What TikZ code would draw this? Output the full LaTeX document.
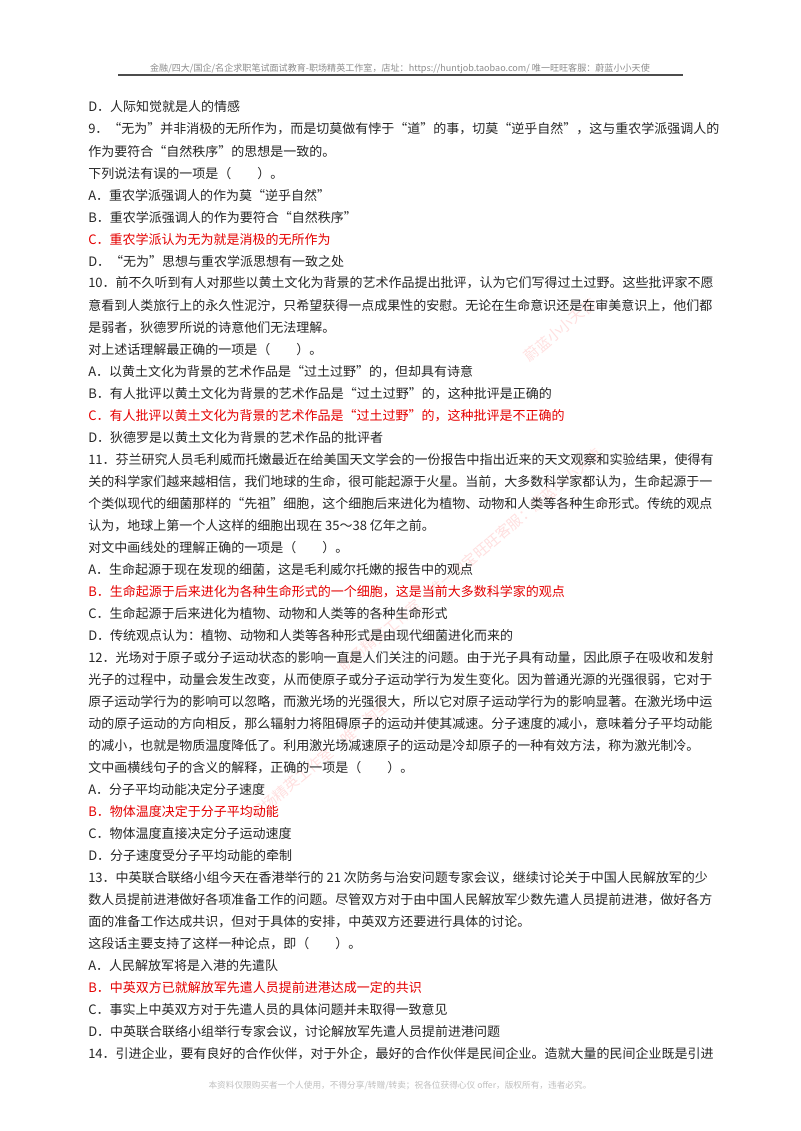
\documentclass[tikz,border=0pt]{standalone}
\usepackage{fontspec}
\setmainfont{Noto Sans CJK SC}
\begin{document}
\begin{tikzpicture}[x=0.75pt,y=-0.75pt,
  ln/.style={anchor=west,inner sep=0pt,font=\fontsize{9.75pt}{12pt}\selectfont,text=black!85},
  ans/.style={ln,text=red!90!black},
  wm/.style={rotate=40,text=red!12,font=\fontsize{11pt}{12pt}\selectfont,inner sep=0pt}]
\useasboundingbox[fill=white] (0,0) rectangle (800,1131);
\newcommand{\Ln}[3][ln]{\node[#1] (l#2) at (88,{107+22.02*#2}) {#3};}
% watermarks
\node[wm] (w1) at (470,560) {职场精英工作室\quad 唯一淘宝旺旺客服：蔚蓝小小天使};
\node[wm] (w2) at (560,330) {蔚蓝小小天使};
\node[wm] (w3) at (320,760) {职场精英工作室\quad 唯一淘宝};
% header
\node[anchor=base,inner sep=0pt,text=black!45,font=\fontsize{6.8pt}{8pt}\selectfont] (hd) at (400,71) {金融/四大/国企/名企求职笔试面试教育-职场精英工作室，店址：https://huntjob.taobao.com/\ 唯一旺旺客服：蔚蓝小小天使};
\coordinate (h1) at (118,75); \coordinate (h2) at (683,75);
\draw[black!70,line width=1.1pt] (h1) -- (h2);
% body
\Ln{0}{D．人际知觉就是人的情感}
\Ln{1}{9．“无为”并非消极的无所作为，而是切莫做有悖于“道”的事，切莫“逆乎自然”，这与重农学派强调人的}
\Ln{2}{作为要符合“自然秩序”的思想是一致的。}
\Ln{3}{下列说法有误的一项是（\quad\quad ）。}
\Ln{4}{A．重农学派强调人的作为莫“逆乎自然”}
\Ln{5}{B．重农学派强调人的作为要符合“自然秩序”}
\Ln[ans]{6}{C．重农学派认为无为就是消极的无所作为}
\Ln{7}{D．“无为”思想与重农学派思想有一致之处}
\Ln{8}{10．前不久听到有人对那些以黄土文化为背景的艺术作品提出批评，认为它们写得过土过野。这些批评家不愿}
\Ln{9}{意看到人类旅行上的永久性泥泞，只希望获得一点成果性的安慰。无论在生命意识还是在审美意识上，他们都}
\Ln{10}{是弱者，狄德罗所说的诗意他们无法理解。}
\Ln{11}{对上述话理解最正确的一项是（\quad\quad ）。}
\Ln{12}{A．以黄土文化为背景的艺术作品是“过土过野”的，但却具有诗意}
\Ln{13}{B．有人批评以黄土文化为背景的艺术作品是“过土过野”的，这种批评是正确的}
\Ln[ans]{14}{C．有人批评以黄土文化为背景的艺术作品是“过土过野”的，这种批评是不正确的}
\Ln{15}{D．狄德罗是以黄土文化为背景的艺术作品的批评者}
\Ln{16}{11．芬兰研究人员毛利威而托嫩最近在给美国天文学会的一份报告中指出近来的天文观察和实验结果，使得有}
\Ln{17}{关的科学家们越来越相信，我们地球的生命，很可能起源于火星。当前，大多数科学家都认为，生命起源于一}
\Ln{18}{个类似现代的细菌那样的“先祖”细胞，这个细胞后来进化为植物、动物和人类等各种生命形式。传统的观点}
\Ln{19}{认为，地球上第一个人这样的细胞出现在 35～38 亿年之前。}
\Ln{20}{对文中画线处的理解正确的一项是（\quad\quad ）。}
\Ln{21}{A．生命起源于现在发现的细菌，这是毛利威尔托嫩的报告中的观点}
\Ln[ans]{22}{B．生命起源于后来进化为各种生命形式的一个细胞，这是当前大多数科学家的观点}
\Ln{23}{C．生命起源于后来进化为植物、动物和人类等的各种生命形式}
\Ln{24}{D．传统观点认为：植物、动物和人类等各种形式是由现代细菌进化而来的}
\Ln{25}{12．光场对于原子或分子运动状态的影响一直是人们关注的问题。由于光子具有动量，因此原子在吸收和发射}
\Ln{26}{光子的过程中，动量会发生改变，从而使原子或分子运动学行为发生变化。因为普通光源的光强很弱，它对于}
\Ln{27}{原子运动学行为的影响可以忽略，而激光场的光强很大，所以它对原子运动学行为的影响显著。在激光场中运}
\Ln{28}{动的原子运动的方向相反，那么辐射力将阻碍原子的运动并使其减速。分子速度的减小，意味着分子平均动能}
\Ln{29}{的减小，也就是物质温度降低了。利用激光场减速原子的运动是冷却原子的一种有效方法，称为激光制冷。}
\Ln{30}{文中画横线句子的含义的解释，正确的一项是（\quad\quad ）。}
\Ln{31}{A．分子平均动能决定分子速度}
\Ln[ans]{32}{B．物体温度决定于分子平均动能}
\Ln{33}{C．物体温度直接决定分子运动速度}
\Ln{34}{D．分子速度受分子平均动能的牵制}
\Ln{35}{13．中英联合联络小组今天在香港举行的 21 次防务与治安问题专家会议，继续讨论关于中国人民解放军的少}
\Ln{36}{数人员提前进港做好各项准备工作的问题。尽管双方对于由中国人民解放军少数先遣人员提前进港，做好各方}
\Ln{37}{面的准备工作达成共识，但对于具体的安排，中英双方还要进行具体的讨论。}
\Ln{38}{这段话主要支持了这样一种论点，即（\quad\quad ）。}
\Ln{39}{A．人民解放军将是入港的先遣队}
\Ln[ans]{40}{B．中英双方已就解放军先遣人员提前进港达成一定的共识}
\Ln{41}{C．事实上中英双方对于先遣人员的具体问题并未取得一致意见}
\Ln{42}{D．中英联合联络小组举行专家会议，讨论解放军先遣人员提前进港问题}
\Ln{43}{14．引进企业，要有良好的合作伙伴，对于外企，最好的合作伙伴是民间企业。造就大量的民间企业既是引进}
% footer
\node[anchor=base,inner sep=0pt,text=black!25,font=\fontsize{6.5pt}{8pt}\selectfont] (ft) at (400,1088) {本资料仅限购买者一个人使用，不得分享/转赠/转卖；祝各位获得心仪 offer，版权所有，违者必究。};
\end{tikzpicture}
\end{document}
